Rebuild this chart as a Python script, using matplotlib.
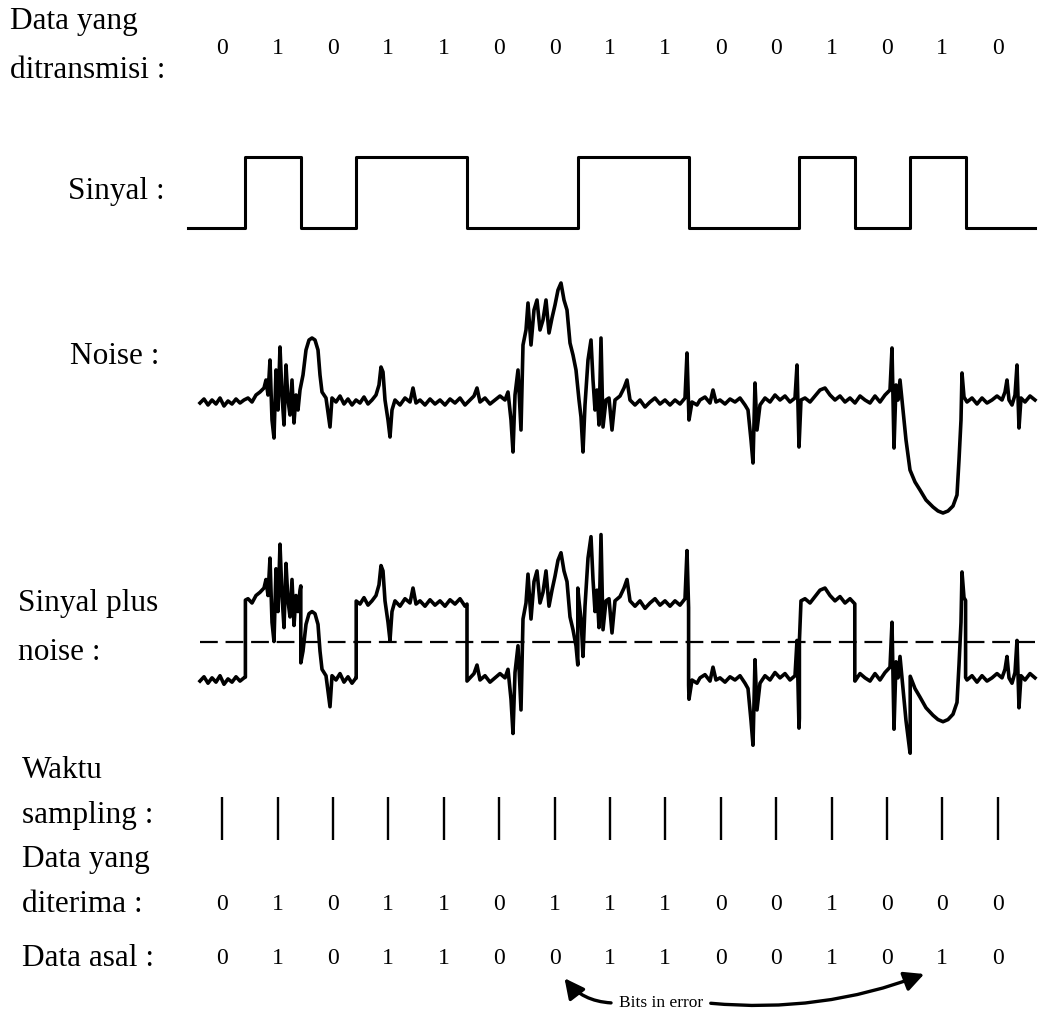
import numpy as np
import matplotlib
matplotlib.use("Agg")
import matplotlib.pyplot as plt
from matplotlib.patches import FancyArrowPatch

# ---------------- data ----------------
bits_sent = [0, 1, 0, 1, 1, 0, 0, 1, 1, 0, 0, 1, 0, 1, 0]
bits_received = [0, 1, 0, 1, 1, 0, 1, 1, 1, 0, 0, 1, 0, 0, 0]
bits_original = [0, 1, 0, 1, 1, 0, 0, 1, 1, 0, 0, 1, 0, 1, 0]
error_bits = [6, 13]

BIT_PERIOD = 55.4      # time units per bit
SIGNAL_MV = 72.0       # signal amplitude in noise units
THRESHOLD = 0.5        # decision threshold (signal units)
SAMPLE_PHASE = 0.58    # sampling instant inside each bit
SIGNAL_START, SIGNAL_END = -0.04, 15.25

# noise: time (time units) and amplitude (mV)
noise_t = [10, 14, 18, 22, 26, 30, 34, 38, 42, 46, 50, 54, 58, 62, 66, 70, 74, 76, 78, 80,
           82, 84, 86, 88, 90, 92, 94, 96, 98, 100, 102, 104, 106, 108, 110, 113, 116, 119, 122, 125,
           128, 130, 132, 136, 140, 142, 146, 150, 154, 158, 162, 166, 170, 174, 178, 182, 186, 189, 191, 193,
           195, 198, 200, 202, 205, 210, 215, 220, 223, 226, 230, 235, 240, 245, 250, 255, 260, 265, 270, 275,
           280, 284, 287, 290, 295, 300, 305, 310, 315, 318, 321, 323, 325, 328, 331, 333, 336, 338, 341, 344,
           347, 350, 353, 356, 359, 362, 365, 368, 371, 374, 377, 380, 383, 386, 389, 391, 393, 395, 398, 401,
           403, 405, 407, 409, 411, 413, 416, 419, 422, 425, 430, 434, 437, 440, 445, 450, 455, 460, 465, 470,
           475, 480, 485, 490, 495, 497, 499, 502, 507, 510, 515, 520, 523, 526, 530, 535, 540, 545, 550, 555,
           558, 561, 563, 565, 567, 570, 575, 580, 585, 590, 595, 600, 605, 607, 609, 611, 615, 620, 625, 630,
           635, 640, 645, 650, 655, 660, 665, 670, 675, 680, 685, 690, 695, 700, 702, 704, 706, 708, 710, 713,
           716, 720, 725, 730, 736, 743, 748, 753, 758, 763, 767, 769, 771, 772, 774, 777, 782, 787, 792, 797,
           802, 807, 812, 815, 817, 819, 822, 825, 827, 829, 831, 835, 840, 845]
noise_mv = [-1, 3, -3, 2, -2, 4, -4, 1, -2, 3, -1, 2, 4, 0, 7, 10, 14, 22, 7, 42,
            -18, -36, 32, -8, 55, 7, -23, 37, 2, -13, 22, -21, 7, -8, 12, 27, 52, 62, 64, 62,
            52, 27, 10, 4, -25, 4, 0, 6, -2, 3, -3, 2, -1, 5, -2, 2, 7, 17, 35, 30,
            2, -18, -35, -8, 2, -3, 4, 0, 14, -1, 2, -3, 3, -2, 2, -3, 3, -1, 4, -3,
            2, 6, 14, 0, 4, -2, 2, 6, 2, 10, -18, -50, 7, 32, -28, 57, 72, 99, 57, 92,
            102, 72, 82, 102, 69, 84, 97, 112, 119, 102, 92, 59, 47, 32, 2, -15, -50, -3, 42, 62,
            22, -8, 12, -23, 64, -25, 2, 4, -28, 2, 6, 14, 22, 2, -3, 2, -5, 0, 4, -2,
            2, -3, 2, -2, 4, 49, -18, 0, -3, 2, 5, -1, 12, 0, 2, -2, 3, 0, 4, -3,
            -8, -38, -61, 19, -28, -3, 4, 0, 7, 2, 6, 0, 4, 37, -45, 2, 4, 0, 6, 12,
            14, 7, 2, 6, 0, 4, -1, 6, 2, -1, 6, 0, 7, 12, 54, -46, 17, 2, 22, -8,
            -38, -68, -80, -88, -98, -105, -109, -111, -109, -104, -93, -58, -18, 29, 5, 0, 4, -2, 4, -1,
            2, 6, 2, 10, 22, 2, -3, 7, 37, -26, 4, 0, 6, 2]

# ---------------- figure ----------------
W, H = 1048, 1028
fig = plt.figure(figsize=(W / 100, H / 100), dpi=100)
fig.patch.set_facecolor("white")

X_ORIGIN_PX = 190.0
XLIM = ((0 - X_ORIGIN_PX) / BIT_PERIOD, (W - X_ORIGIN_PX) / BIT_PERIOD)

def band(top, bottom):
    ax = fig.add_axes([0, 1 - bottom / H, 1, (bottom - top) / H])
    ax.set_xlim(*XLIM)
    ax.axis("off")
    return ax

ink = "black"
serif = ["Liberation Serif", "DejaVu Serif"]

# --- transmitted signal
ax_sig = band(157, 228)
ax_sig.set_ylim(0, 1)
edges = np.r_[SIGNAL_START, np.arange(1, len(bits_sent)), SIGNAL_END]
levels = np.r_[bits_sent, bits_sent[-1]]
ax_sig.step(edges, levels, where="post", color=ink, lw=2.2, clip_on=False)

# --- noise
tn = np.array(noise_t) / BIT_PERIOD
vn = np.array(noise_mv, dtype=float)
ax_noise = band(280, 530)
ax_noise.set_ylim(402 - 530, 402 - 280)
ax_noise.plot(tn, vn, color=ink, lw=2.6)

# --- signal plus noise
change = [k for k in range(1, len(bits_sent)) if bits_sent[k] != bits_sent[k - 1]]
t_all = np.sort(np.r_[tn, [k - 1e-4 for k in change], [k + 1e-4 for k in change]])
lvl = np.array([bits_sent[min(int(np.floor(t)), len(bits_sent) - 1)] for t in t_all])
sn = lvl + np.interp(t_all, tn, vn) / SIGNAL_MV
ax_sn = band(530, 760)
ax_sn.set_ylim((680 - 760) / 77.0, (680 - 530) / 77.0)
ax_sn.plot(t_all, sn, color=ink, lw=2.6)
ax_sn.plot([tn[0], tn[-1]], [THRESHOLD, THRESHOLD], color=ink, lw=1.6,
           dashes=(8, 3.5))

# --- overlay for text rows and sampling marks
ov = band(0, H)
ov.set_ylim(H, 0)
samples = np.arange(len(bits_sent)) + SAMPLE_PHASE
ov.vlines(samples, 797, 840, color=ink, lw=1.7)

def bit_row(bits, y):
    for k, b in enumerate(bits):
        ov.text(samples[k], y, str(b), ha="center", va="center",
                fontsize=17, family=serif, color=ink)

bit_row(bits_sent, 48)
bit_row(bits_received, 905)
bit_row(bits_original, 958)

labels = [
    ("Data yang", 10, 22), ("ditransmisi :", 10, 70),
    ("Sinyal :", 68, 192), ("Noise :", 70, 356),
    ("Sinyal plus", 18, 603), ("noise :", 18, 652),
    ("Waktu", 22, 770), ("sampling :", 22, 815),
    ("Data yang", 22, 860), ("diterima :", 22, 905),
    ("Data asal :", 22, 958),
]
for s, x, y in labels:
    fig.text(x / W, 1 - y / H, s, ha="left", va="center", fontsize=22.5,
             family=serif, color=ink)

text_t = 8.5
ov.text(text_t, 1003, "Bits in error", ha="center", va="center",
        fontsize=12.5, family=serif, color=ink)
a1 = FancyArrowPatch((text_t - 0.85, 1003), (error_bits[0] + SAMPLE_PHASE + 0.15, 976),
                     connectionstyle="arc3,rad=-0.25", arrowstyle="-|>,head_length=6,head_width=3",
                     color=ink, lw=2.4, mutation_scale=2)
a2 = FancyArrowPatch((text_t + 0.85, 1003), (error_bits[1] + SAMPLE_PHASE - 0.28, 973),
                     connectionstyle="arc3,rad=0.12", arrowstyle="-|>,head_length=6,head_width=3",
                     color=ink, lw=2.4, mutation_scale=2)
ov.add_patch(a1)
ov.add_patch(a2)

fig.savefig("out.png", dpi=100, facecolor="white")
